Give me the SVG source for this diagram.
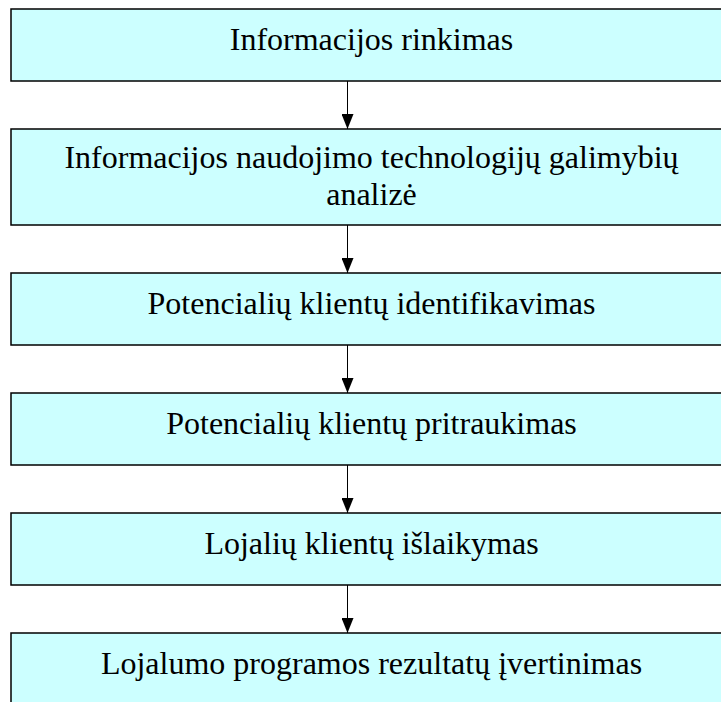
<svg xmlns="http://www.w3.org/2000/svg" width="721" height="702" viewBox="0 0 721 702">
  <style>
    .box { fill: #CCFFFF; stroke: #000000; stroke-width: 1.5; }
    .lbl { font-family: "Liberation Serif", "Times New Roman", serif; font-size: 32px; fill: #000000; text-anchor: middle; }
    .conn { stroke: #000000; stroke-width: 1; fill: none; marker-end: url(#arrow); }
  </style>
  <defs>
    <marker id="arrow" viewBox="0 0 15 12" markerWidth="15" markerHeight="12" refX="15" refY="6" orient="auto" markerUnits="userSpaceOnUse">
      <path d="M0,0 L15,6 L0,12 z" fill="#000000"/>
    </marker>
  </defs>
  <rect x="0" y="0" width="721" height="702" fill="#FFFFFF"/>
  <g id="n1">
    <rect class="box" x="11" y="9" width="721" height="72"/>
    <text class="lbl" x="371.5" y="50">Informacijos rinkimas</text>
  </g>
  <g id="n2">
    <rect class="box" x="11" y="129" width="721" height="96"/>
    <text class="lbl" x="371.5" y="168">Informacijos naudojimo technologijų galimybių</text>
    <text class="lbl" x="371.5" y="205">analizė</text>
  </g>
  <g id="n3">
    <rect class="box" x="11" y="273" width="721" height="72"/>
    <text class="lbl" x="371.5" y="314">Potencialių klientų identifikavimas</text>
  </g>
  <g id="n4">
    <rect class="box" x="11" y="393" width="721" height="72"/>
    <text class="lbl" x="371.5" y="434">Potencialių klientų pritraukimas</text>
  </g>
  <g id="n5">
    <rect class="box" x="11" y="513" width="721" height="72"/>
    <text class="lbl" x="371.5" y="554">Lojalių klientų išlaikymas</text>
  </g>
  <g id="n6">
    <rect class="box" x="11" y="633" width="721" height="72"/>
    <text class="lbl" x="371.5" y="674">Lojalumo programos rezultatų įvertinimas</text>
  </g>
  <g id="connectors">
    <line class="conn" x1="347.5" y1="81" x2="347.5" y2="129"/>
    <line class="conn" x1="347.5" y1="225" x2="347.5" y2="273"/>
    <line class="conn" x1="347.5" y1="345" x2="347.5" y2="393"/>
    <line class="conn" x1="347.5" y1="465" x2="347.5" y2="513"/>
    <line class="conn" x1="347.5" y1="585" x2="347.5" y2="633"/>
  </g>
</svg>
